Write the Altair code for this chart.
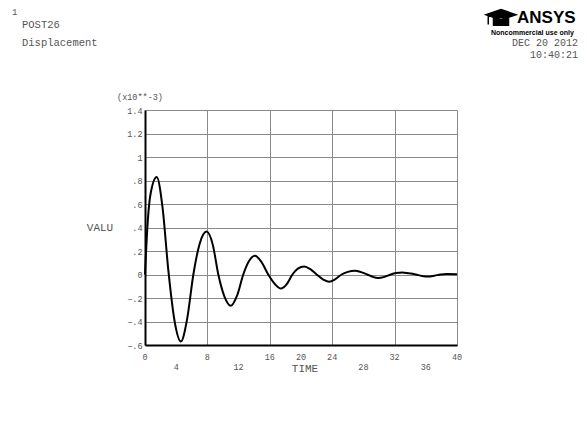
import altair as alt
import pandas as pd

# Displacement (x10**-3) versus TIME
time_pts = [0, 0.35, 0.75, 1.5, 2.25, 3.0, 3.8, 4.6, 5.4, 6.2, 7.0, 7.9, 8.7, 9.4,
            10.2, 11.0, 11.8, 12.6, 13.3, 14.1, 14.9, 15.8, 16.7, 17.4, 18.2, 18.9,
            19.6, 20.4, 21.2, 22.0, 22.9, 23.6, 24.4, 25.2, 26.0, 26.9, 27.7, 28.5,
            29.2, 29.9, 30.7, 31.5, 32.2, 33.0, 33.8, 34.7, 35.5, 36.3, 37.1, 37.9,
            38.7, 40.0]
disp_pts = [0.0, 0.45, 0.70, 0.83, 0.57, 0.03, -0.40, -0.57, -0.38, 0.0, 0.26, 0.365,
            0.25, 0.0, -0.19, -0.266, -0.18, 0.0, 0.11, 0.16, 0.11, 0.0, -0.085, -0.12,
            -0.08, 0.0, 0.05, 0.068, 0.045, 0.0, -0.045, -0.062, -0.04, 0.0, 0.022,
            0.032, 0.02, 0.0, -0.02, -0.03, -0.02, 0.0, 0.012, 0.017, 0.01, 0.0,
            -0.012, -0.017, -0.01, 0.0, 0.004, 0.003]

x_grid = [0, 4, 8, 12, 16, 20, 24, 28, 32, 36, 40]
x_labels_upper = [0, 8, 16, 20, 24, 32, 40]
x_labels_lower = [4, 12, 28, 36]
y_ticks = [-0.6, -0.4, -0.2, 0, 0.2, 0.4, 0.6, 0.8, 1.0, 1.2, 1.4]

MONO = "Liberation Mono"
TXT = "#555555"

xs = alt.Scale(domain=[0, 40], nice=False, zero=False)
ys = alt.Scale(domain=[-0.6, 1.4], nice=False, zero=False)

df = pd.DataFrame({"t": time_pts, "v": disp_pts})

curve = alt.Chart(df).mark_line(color="black", strokeWidth=2, interpolate="monotone").encode(
    x=alt.X("t:Q", scale=xs, axis=alt.Axis(values=x_grid, labels=False, ticks=False, title=None,
                                           grid=True, gridColor="#8a8a8a", gridWidth=1,
                                           domainColor="black", domainWidth=2)),
    y=alt.Y("v:Q", scale=ys, axis=alt.Axis(values=y_ticks, ticks=False, title=None, grid=True,
                                           gridColor="#8a8a8a", gridWidth=1,
                                           domainColor="black", domainWidth=2,
                                           labelFont=MONO, labelFontSize=8.5, labelColor=TXT,
                                           labelPadding=3,
                                           labelExpr="replace(format(datum.value, '.1~f'), '0.', '.')")),
)

def xlab_layer(vals, ypix):
    return alt.Chart(pd.DataFrame({"v": vals})).mark_text(
        font=MONO, fontSize=8.5, color=TXT, align="center", baseline="middle"
    ).encode(x=alt.X("v:Q", scale=xs), y=alt.value(ypix), text=alt.Text("v:Q", format="d"))

def text_layer(txt, x, y, size=10.5, align="left", color=TXT, font=MONO, weight="normal"):
    return alt.Chart(pd.DataFrame({"s": [txt]})).mark_text(
        font=font, fontSize=size, color=color, align=align, baseline="middle", fontWeight=weight
    ).encode(text="s:N", x=alt.value(x), y=alt.value(y))

cap = alt.Chart(pd.DataFrame({"s": [0]})).mark_point(
    shape="M-1,-0.15L0,-0.5L1,-0.15L0,0.2Z M-0.5,0.05L-0.5,0.55L0.5,0.55L0.5,0.05Z M-0.85,-0.15L-0.85,0.5",
    filled=True, color="black", size=900, opacity=1, stroke="black", strokeWidth=1.5
).encode(x=alt.value(356), y=alt.value(-93))

layers = [
    curve,
    xlab_layer(x_labels_upper, 247),
    xlab_layer(x_labels_lower, 257),
    text_layer("1", -133, -98, size=9),
    text_layer("POST26", -123, -85),
    text_layer("Displacement", -123, -67),
    text_layer("DEC 20 2012", 433, -67, size=10, align="right"),
    text_layer("10:40:21", 433, -55, size=10, align="right"),
    text_layer("(x10**-3)", -5, -13, size=8.5, align="center"),
    text_layer("VALU", -45, 118, size=11, align="center"),
    text_layer("TIME", 160, 259, size=11, align="center"),
    text_layer("ANSYS", 372, -92, size=17, color="black",
               font="Liberation Sans", weight="bold"),
    text_layer("Noncommercial use only", 346, -77, size=7, color="black",
               font="Liberation Sans", weight="bold"),
    cap,
]

chart = alt.layer(*layers).properties(
    width=312, height=235,
    autosize=alt.AutoSizeParams(type="none"),
    padding={"left": 137, "top": 102, "right": 122, "bottom": 89},
    background="white",
).configure_view(stroke=None)

chart.save("out.html", embed_options={"renderer": "svg", "actions": False})
